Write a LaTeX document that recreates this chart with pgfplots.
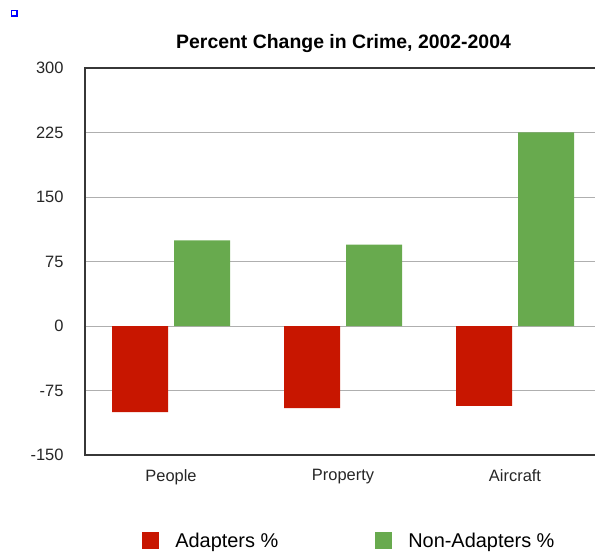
\documentclass[border=0pt]{standalone}
\usepackage{pgfplots}
\pgfplotsset{compat=1.18}
\usepackage{fontspec}
\setmainfont{Liberation Sans}
\definecolor{adred}{RGB}{200,22,0}
\definecolor{nagreen}{RGB}{104,170,78}
\definecolor{gridgray}{RGB}{175,175,175}
\definecolor{axisdark}{RGB}{55,55,55}
\begin{document}
\begin{tikzpicture}
\path[use as bounding box] (-85bp,-99bp) rectangle (510bp,455bp);
\draw[blue, line width=1.3bp] (-73.5bp,439bp) rectangle (-68bp,444.5bp);
\begin{axis}[
  at={(0,0)}, anchor=south west,
  scale only axis,
  width=510bp, height=387bp,
  xmin=-0.5, xmax=2.465,
  ymin=-150, ymax=300,
  ytick={-150,-75,0,75,150,225,300},
  yticklabels={-150,-75,0,75,150,225,300},
  xtick={0,1,2},
  xticklabels={People,Property,Aircraft},
  major tick length=0pt,
  ymajorgrids,
  major grid style={gridgray, line width=0.8bp},
  axis line style={draw=none},
  yticklabel style={font=\fontsize{16.5}{18}\selectfont, color=black!85, xshift=-18bp},
  xticklabel style={font=\fontsize{16.5}{18}\selectfont, color=black!85, yshift=-11bp},
  ybar=6bp,
  bar width=56bp,
  title={Percent Change in Crime, 2002-2004},
  title style={font=\bfseries\fontsize{19.5}{22}\selectfont, at={(0.507,1.036)}, anchor=base},
  legend columns=2,
  legend style={draw=none, fill=none, at={(0.112,-0.222)}, anchor=west, inner sep=0pt,
    font=\fontsize{20}{22}\selectfont,
    /tikz/every even column/.append style={column sep=95bp}},
  legend image code/.code={\fill[#1] (0bp,-8.5bp) rectangle (17bp,8.5bp); \path (31bp,0bp);},
  after end axis/.code={
    \draw[axisdark, line width=1.5bp] (rel axis cs:1,1) -- (rel axis cs:0,1) -- (rel axis cs:0,0) -- (rel axis cs:1,0);
  },
]
\addplot[fill=adred, draw=none] coordinates {(0,-100) (1,-95.5) (2,-93)};
\addplot[fill=nagreen, draw=none] coordinates {(0,99.5) (1,94.5) (2,225)};
\legend{Adapters \%, Non-Adapters \%}
\end{axis}
\end{tikzpicture}
\end{document}
